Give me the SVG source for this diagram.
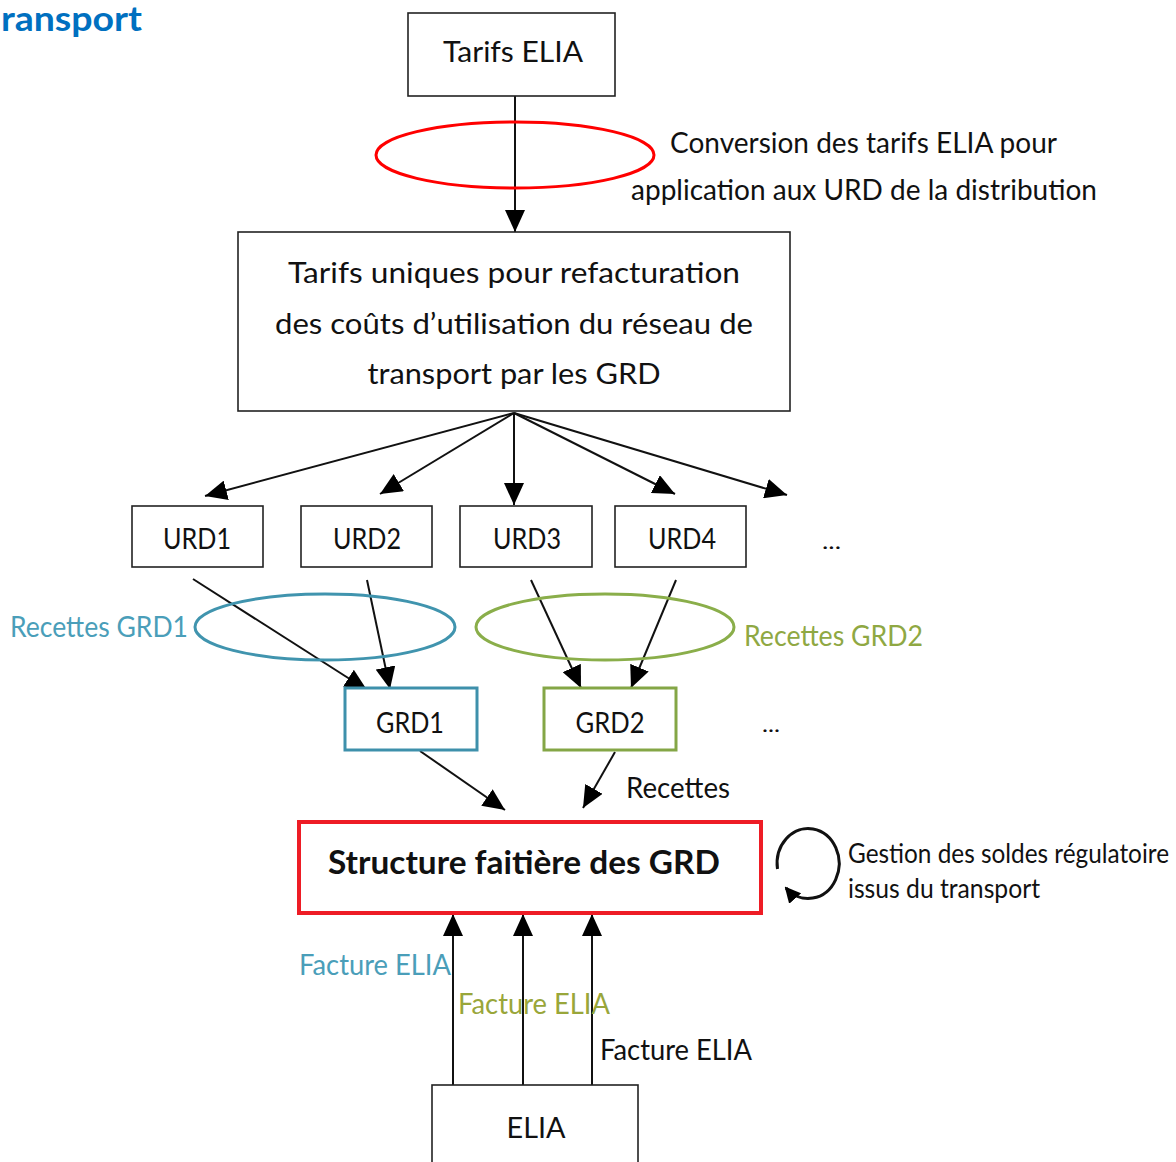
<svg xmlns="http://www.w3.org/2000/svg" width="1176" height="1162" viewBox="0 0 1176 1162">
<defs>
<style>
text{font-family:Lato,"Open Sans","Liberation Sans",sans-serif;fill:#111;}
.box{fill:#fff;stroke:#222;stroke-width:1.6;}
.c{stroke:#111;stroke-width:2;fill:none;marker-end:url(#ah);}
.lbl{font-size:29px;}
.mid{text-anchor:middle;}
</style>
<marker id="ah" viewBox="0 0 22 20" refX="22" refY="10" markerWidth="22" markerHeight="20" markerUnits="userSpaceOnUse" orient="auto">
<path d="M0,0 L22,10 L0,20 z" fill="#000"/>
</marker>
<marker id="ahs" viewBox="0 0 16 16" refX="14" refY="8" markerWidth="16" markerHeight="16" markerUnits="userSpaceOnUse" orient="auto">
<path d="M0,0 L16,8 L0,16 z" fill="#000"/>
</marker>
</defs>
<rect width="1176" height="1162" fill="#fff"/>
<text x="1" y="31" font-size="34" font-weight="bold" style="fill:#0070C0" textLength="141" lengthAdjust="spacingAndGlyphs">ransport</text>

<g id="connectors">
<line class="c" x1="515" y1="96" x2="515" y2="232"/>
<line class="c" x1="514" y1="413" x2="205" y2="496"/>
<line class="c" x1="514" y1="413" x2="380" y2="494"/>
<line class="c" x1="514" y1="413" x2="514" y2="505"/>
<line class="c" x1="514" y1="413" x2="675" y2="494"/>
<line class="c" x1="514" y1="413" x2="787" y2="495"/>
<line class="c" x1="193" y1="579" x2="367" y2="690"/>
<line class="c" x1="367" y1="580" x2="390" y2="689"/>
<line class="c" x1="531" y1="580" x2="581" y2="688"/>
<line class="c" x1="676" y1="580" x2="631" y2="688"/>
<line class="c" x1="420" y1="751" x2="505" y2="810"/>
<line class="c" x1="615" y1="752" x2="583" y2="808"/>
<line class="c" x1="453" y1="1085" x2="453" y2="914"/>
<line class="c" x1="523" y1="1085" x2="523" y2="914"/>
<line class="c" x1="592" y1="1085" x2="592" y2="914"/>
<path d="M777.5 869 A31 35 0 1 1 786 888" fill="none" stroke="#111" stroke-width="3" marker-end="url(#ahs)"/>
</g>

<g id="conversion">
<ellipse cx="515" cy="155" rx="139" ry="33" fill="none" stroke="#FF0000" stroke-width="3"/>
<text x="670" y="153" class="lbl" textLength="387" lengthAdjust="spacingAndGlyphs">Conversion des tarifs ELIA pour</text>
<text x="631" y="200" class="lbl" textLength="466" lengthAdjust="spacingAndGlyphs">application aux URD de la distribution</text>
</g>

<g id="recettes-grd1">
<ellipse cx="325" cy="627" rx="130" ry="33" fill="none" stroke="#4094AE" stroke-width="3"/>
<text x="10" y="637" class="lbl" style="fill:#4A9EB9" textLength="178" lengthAdjust="spacingAndGlyphs">Recettes GRD1</text>
</g>
<g id="recettes-grd2">
<ellipse cx="605" cy="627" rx="129" ry="33" fill="none" stroke="#8AAE4A" stroke-width="3"/>
<text x="744" y="646" class="lbl" style="fill:#8FA843" textLength="179" lengthAdjust="spacingAndGlyphs">Recettes GRD2</text>
</g>

<g id="tarifs-elia">
<rect class="box" x="408" y="13" width="207" height="83"/>
<text x="513" y="62" class="lbl mid" textLength="140" lengthAdjust="spacingAndGlyphs">Tarifs ELIA</text>
</g>

<g id="tarifs-uniques">
<rect class="box" x="238" y="232" width="552" height="179"/>
<text x="514" y="283" class="lbl mid" textLength="452" lengthAdjust="spacingAndGlyphs">Tarifs uniques pour refacturation</text>
<text x="514" y="334" class="lbl mid" textLength="478" lengthAdjust="spacingAndGlyphs">des coûts d’utilisation du réseau de</text>
<text x="514" y="384" class="lbl mid" textLength="293" lengthAdjust="spacingAndGlyphs">transport par les GRD</text>
</g>

<g id="urd1"><rect class="box" x="132" y="506" width="131" height="61"/><text x="197" y="549" class="lbl mid" textLength="68" lengthAdjust="spacingAndGlyphs">URD1</text></g>
<g id="urd2"><rect class="box" x="301" y="506" width="131" height="61"/><text x="367" y="549" class="lbl mid" textLength="68" lengthAdjust="spacingAndGlyphs">URD2</text></g>
<g id="urd3"><rect class="box" x="460" y="506" width="132" height="61"/><text x="527" y="549" class="lbl mid" textLength="68" lengthAdjust="spacingAndGlyphs">URD3</text></g>
<g id="urd4"><rect class="box" x="615" y="506" width="131" height="61"/><text x="682" y="549" class="lbl mid" textLength="68" lengthAdjust="spacingAndGlyphs">URD4</text></g>
<g id="urd-more"><text x="822" y="549" font-size="22" textLength="19" lengthAdjust="spacingAndGlyphs">...</text></g>

<g id="grd1"><rect x="345" y="688" width="132" height="62" fill="#fff" stroke="#3E90AB" stroke-width="3"/><text x="410" y="733" class="lbl mid" textLength="68" lengthAdjust="spacingAndGlyphs">GRD1</text></g>
<g id="grd2"><rect x="544" y="688" width="132" height="62" fill="#fff" stroke="#84A646" stroke-width="3"/><text x="610" y="733" class="lbl mid" textLength="69" lengthAdjust="spacingAndGlyphs">GRD2</text></g>
<g id="grd-more"><text x="762" y="732" font-size="22" textLength="18" lengthAdjust="spacingAndGlyphs">...</text></g>

<text x="626" y="798" class="lbl" textLength="104" lengthAdjust="spacingAndGlyphs">Recettes</text>

<g id="structure">
<rect x="299" y="822" width="462" height="91" fill="#fff" stroke="#EE1C25" stroke-width="4"/>
<text x="524" y="874" font-size="32" font-weight="bold" class="mid" textLength="392" lengthAdjust="spacingAndGlyphs">Structure faitière des GRD</text>
</g>

<g id="gestion">
<text x="848" y="863" font-size="26" textLength="321" lengthAdjust="spacingAndGlyphs">Gestion des soldes régulatoire</text>
<text x="848" y="898" font-size="26" textLength="192" lengthAdjust="spacingAndGlyphs">issus du transport</text>
</g>

<text x="299" y="975" class="lbl" style="fill:#4A9EB9" textLength="152" lengthAdjust="spacingAndGlyphs">Facture ELIA</text>
<text x="458" y="1014" class="lbl" style="fill:#99A63A" textLength="152" lengthAdjust="spacingAndGlyphs">Facture ELIA</text>
<text x="600" y="1060" class="lbl" textLength="152" lengthAdjust="spacingAndGlyphs">Facture ELIA</text>

<g id="elia">
<rect class="box" x="432" y="1085" width="206" height="90"/>
<text x="536" y="1138" class="lbl mid" textLength="59" lengthAdjust="spacingAndGlyphs">ELIA</text>
</g>
</svg>
